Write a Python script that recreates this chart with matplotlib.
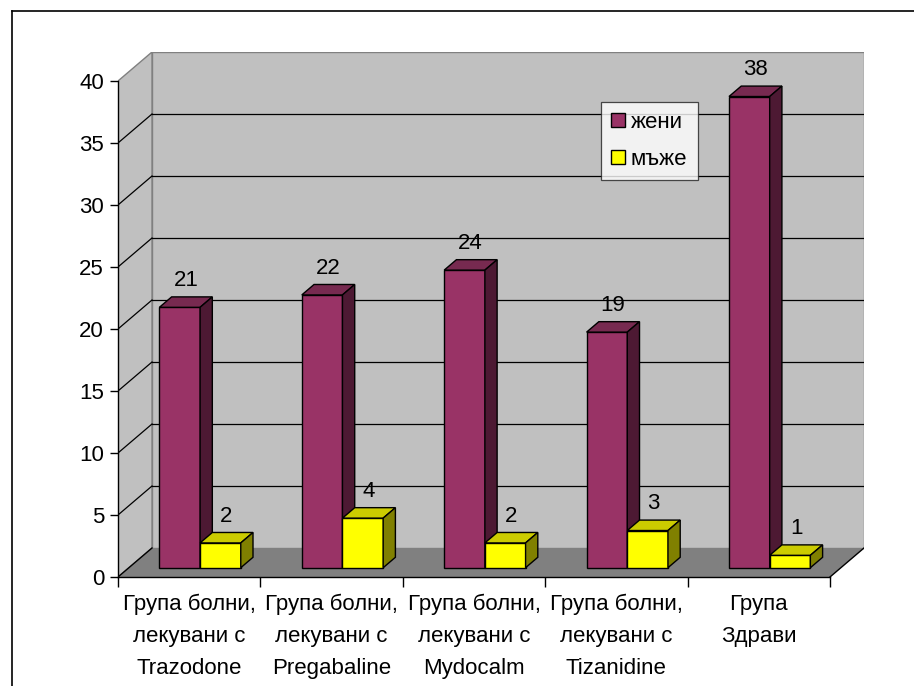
import matplotlib
matplotlib.use("Agg")
import matplotlib.pyplot as plt
from matplotlib.patches import Polygon, Patch
from matplotlib.lines import Line2D

plt.rcParams['font.family'] = ['Liberation Sans', 'DejaVu Sans']

categories = [
    "Група болни,\nлекувани с\nTrazodone",
    "Група болни,\nлекувани с\nPregabaline",
    "Група болни,\nлекувани с\nMydocalm",
    "Група болни,\nлекувани с\nTizanidine",
    "Група\nЗдрави",
]
series_names = ["жени", "мъже"]
women = [21, 22, 24, 19, 38]
men = [2, 4, 2, 3, 1]
y_ticks = [0, 5, 10, 15, 20, 25, 30, 35, 40]

W, H = 914, 686
fig = plt.figure(figsize=(W / 100, H / 100), dpi=100)

# geometry (pixels)
x0_px, y0_px = 118, 577
cat_px = 142.4
unit_px = 12.4
depth_px = (34, 29)
n = len(categories)
ymax = 40
DX = depth_px[0] / cat_px
DY = depth_px[1] / unit_px

ax = fig.add_axes([x0_px / W, (H - y0_px) / H,
                   (n + DX) * cat_px / W, (ymax + DY) * unit_px / H])
ax.set_xlim(0, n + DX)
ax.set_ylim(0, ymax + DY)
ax.patch.set_visible(False)
for s in ['top', 'right']:
    ax.spines[s].set_visible(False)
ax.spines['left'].set_bounds(0, ymax)
ax.spines['bottom'].set_bounds(0, n)
ax.spines['left'].set_linewidth(1.0)
ax.spines['bottom'].set_linewidth(1.0)
ax.spines['left'].set_zorder(5)
ax.spines['bottom'].set_zorder(5)

# walls
grey_wall = '#C0C0C0'
ax.add_patch(Polygon([(DX, DY), (n + DX, DY), (n + DX, ymax + DY), (DX, ymax + DY)],
                     closed=True, facecolor=grey_wall, edgecolor='#808080', lw=1.0, zorder=1))
ax.add_patch(Polygon([(0, 0), (DX, DY), (DX, ymax + DY), (0, ymax)],
                     closed=True, facecolor=grey_wall, edgecolor='#808080', lw=1.0, zorder=1))
ax.add_patch(Polygon([(0, 0), (n, 0), (n + DX, DY), (DX, DY)],
                     closed=True, facecolor='#808080', edgecolor='none', zorder=2))
# floor side edges
ax.plot([0, DX], [0, DY], color='black', lw=1.0, zorder=3)
ax.plot([n, n + DX], [0, DY], color='black', lw=1.0, zorder=3)

# gridlines
for v in y_ticks[1:-1]:
    ax.plot([DX, n + DX], [v + DY, v + DY], color='black', lw=0.9, zorder=2)
    ax.plot([0, DX], [v, v + DY], color='black', lw=0.9, zorder=2)

# bars
w = 1 / 3.5
d0, d1 = 0.32, 0.68
face_cols = [('#993366', '#772A50', '#4D1933'), ('#FFFF00', '#CCCC00', '#808000')]
for i in range(n):
    for s, vals in enumerate([women, men]):
        v = vals[i]
        xa = i + 0.5 - w + s * w
        xb = xa + w
        front, top, side = face_cols[s]
        z = 4
        ax.add_patch(Polygon([(xa + d0 * DX, d0 * DY), (xb + d0 * DX, d0 * DY),
                              (xb + d0 * DX, v + d0 * DY), (xa + d0 * DX, v + d0 * DY)],
                             closed=True, facecolor=front, edgecolor='black', lw=1.0, zorder=z))
        ax.add_patch(Polygon([(xa + d0 * DX, v + d0 * DY), (xb + d0 * DX, v + d0 * DY),
                              (xb + d1 * DX, v + d1 * DY), (xa + d1 * DX, v + d1 * DY)],
                             closed=True, facecolor=top, edgecolor='black', lw=1.0, zorder=z))
        ax.add_patch(Polygon([(xb + d0 * DX, d0 * DY), (xb + d1 * DX, d1 * DY),
                              (xb + d1 * DX, v + d1 * DY), (xb + d0 * DX, v + d0 * DY)],
                             closed=True, facecolor=side, edgecolor='black', lw=1.0, zorder=z))
        cx = (xa + xb) / 2 + (d0 + d1) / 2 * DX
        cy = v + (d0 + d1) / 2 * DY
        ax.annotate(str(v), (cx, cy), xytext=(0, 15.5), textcoords='offset points',
                    ha='center', va='center', fontsize=16, zorder=6)

# axes ticks
ax.set_yticks(y_ticks)
ax.set_yticklabels([str(t) for t in y_ticks], fontsize=16)
ax.tick_params(axis='y', direction='out', length=6, width=1.0, pad=4)
ax.set_xticks(range(n + 1))
ax.set_xticklabels([''] * (n + 1))
ax.set_xticks([i + 0.5 for i in range(n)], minor=True)
ax.set_xticklabels(categories, minor=True, fontsize=16, linespacing=1.68)
ax.tick_params(axis='x', which='major', direction='out', length=7, width=1.0)
ax.tick_params(axis='x', which='minor', length=0, pad=12)

# legend
handles = [Patch(facecolor=face_cols[0][0], edgecolor='black', lw=1.0),
           Patch(facecolor=face_cols[1][0], edgecolor='black', lw=1.0)]
leg = fig.legend(handles, series_names, loc='upper left',
                 bbox_to_anchor=(601 / W, 1 - 102 / H), fontsize=16,
                 handlelength=0.62, handleheight=0.62, handletextpad=0.28,
                 labelspacing=0.72, borderpad=0.45, borderaxespad=0,
                 fancybox=False, frameon=True)
leg.get_frame().set_edgecolor('#202020')
leg.get_frame().set_linewidth(0.9)

# outer chart border (top and left visible)
fig.add_artist(Line2D([12 / W, 1], [1 - 11 / H, 1 - 11 / H], color='black', lw=1.2,
                      transform=fig.transFigure))
fig.add_artist(Line2D([12 / W, 12 / W], [0, 1 - 11 / H], color='black', lw=1.2,
                      transform=fig.transFigure))

fig.savefig('out.png', dpi=100)
